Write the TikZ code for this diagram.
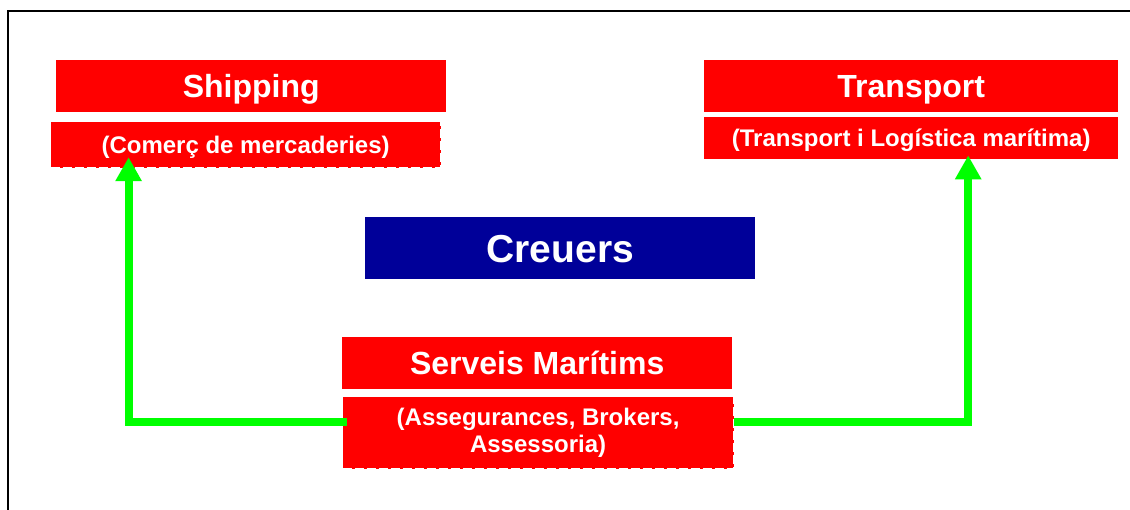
\documentclass[tikz,border=0pt]{standalone}
\usepackage{fontspec}
\setmainfont{Liberation Sans}
\usetikzlibrary{arrows.meta}
\definecolor{boxred}{HTML}{FF0000}
\definecolor{navyfill}{HTML}{000099}
\definecolor{linkgreen}{HTML}{00FF00}
\begin{document}
\begin{tikzpicture}[x=1pt,y=-1pt,
  box/.style={fill=boxred, text=white, inner sep=0pt, anchor=north west},
  headbox/.style={box, font=\fontsize{32}{38}\selectfont\bfseries,
    text height=23pt, text depth=0pt},
  subbox/.style={box, font=\fontsize{24}{27}\selectfont\bfseries},
  oneline/.style={text height=17pt, text depth=0pt},
  dashedge/.style={draw=white, line width=1.2pt, dash pattern=on 9pt off 3pt},
  link/.style={draw=linkgreen, line width=8pt,
    -{Triangle[width=25pt,length=24pt]}},
]
\useasboundingbox (0,0) rectangle (1130,509);

% frame
\draw[line width=2pt] (1135,10.5) -- (7.5,10.5) -- (7.5,515);

% boxes
\node[headbox, minimum width=390pt, minimum height=52pt] (ship) at (56,60) {Shipping};
\node[subbox, oneline, dashedge, minimum width=390pt, minimum height=46pt] (com) at (50,121) {(Comerç de mercaderies)};

\node[headbox, minimum width=414pt, minimum height=52pt] (trans) at (704,60) {Transport};
\node[subbox, oneline, minimum width=414pt, minimum height=42pt] (tlog) at (704,117) {(Transport i Logística marítima)};

\node[box, fill=navyfill, font=\fontsize{39}{46}\selectfont\bfseries,
  text height=28pt, text depth=0pt,
  minimum width=390pt, minimum height=62pt] (creu) at (365,217) {Creuers};

\node[headbox, minimum width=390pt, minimum height=52pt] (serv) at (342,337) {Serveis Marítims};
\node[subbox, dashedge, align=center, minimum width=391pt, minimum height=72pt] (asg) at (342,396)
  {\raisebox{0pt}[17pt][0pt]{(Assegurances, Brokers,}\\Assessoria)};

% connectors
\draw[link] ([shift={(5,-11)}]asg.west) -| ([shift={(-117,-11)}]com.south);
\draw[link] ([shift={(0,-11)}]asg.east) -| ([shift={(57,-4)}]tlog.south);
\end{tikzpicture}
\end{document}
